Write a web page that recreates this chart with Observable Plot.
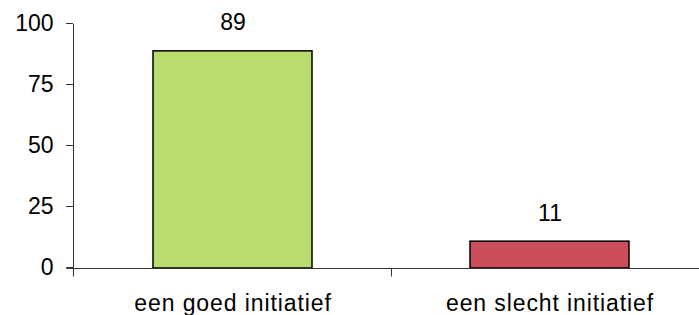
<!DOCTYPE html>
<html>
<head>
<meta charset="utf-8">
<script src="https://cdn.jsdelivr.net/npm/d3@7"></script>
<script src="https://cdn.jsdelivr.net/npm/@observablehq/plot@0.6"></script>
<style>
  html, body { margin: 0; padding: 0; background: #fff; }
  #chart svg { display: block; }
  #chart svg g[aria-label="x-axis tick label"] text { letter-spacing: 0.9px; }
</style>
</head>
<body>
<div id="chart"></div>
<script>
const categories = ["een goed initiatief", "een slecht initiatief"];
const values = [89, 11];
const barColors = ["#b8dc6e", "#c94d5a"];
const yTicks = [0, 25, 50, 75, 100];

const data = categories.map((c, i) => ({category: c, value: values[i]}));

const FONT = "'Liberation Sans', Arial, Helvetica, sans-serif";

const axisLines = (index, scales, vals, dims) => {
  const x = scales.x, y = scales.y;
  const y0 = Math.round(y(0)) + 0.5;
  const left = dims.marginLeft + 0.5;
  const g = d3.create("svg:g").attr("stroke", "#333").attr("stroke-width", 1).attr("fill", "none");
  g.append("line").attr("x1", left).attr("x2", left).attr("y1", y(d3.max(yTicks))).attr("y2", y0 + 8);
  g.append("line").attr("x1", left - 7).attr("x2", dims.width).attr("y1", y0).attr("y2", y0);
  const bw = typeof x.bandwidth === "function" ? x.bandwidth() : x.bandwidth;
  for (let i = 1; i < categories.length; i++) {
    const bx = Math.round((x(categories[i - 1]) + bw + x(categories[i])) / 2) + 0.5;
    g.append("line").attr("x1", bx).attr("x2", bx).attr("y1", y0).attr("y2", y0 + 8);
  }
  return g.node();
};

const chart = Plot.plot({
  width: 699,
  height: 315,
  marginLeft: 73,
  marginRight: 0,
  marginTop: 24,
  marginBottom: 47,
  style: {fontFamily: FONT, fontSize: "23px", color: "#000", background: "#fff"},
  x: {domain: categories, range: [73, 708], paddingInner: 0.5, paddingOuter: 0.25, axis: null},
  y: {domain: [0, 100], axis: null},
  color: {domain: categories, range: barColors},
  marks: [
    Plot.barY(data, {x: "category", y: "value", fill: "category", stroke: "#000", strokeWidth: 1.5}),
    Plot.text(data, {x: "category", y: "value", text: d => String(d.value), lineAnchor: "bottom", dy: -21, fontSize: 23, fill: "#000"}),
    Plot.axisY({ticks: yTicks, tickSize: 7, tickPadding: 13, fontSize: 23, stroke: "#333", dy: -1, label: null}),
    Plot.axisX({tickSize: 0, tickPadding: 26, fontSize: 23, label: null}),
    axisLines
  ]
});
document.getElementById("chart").appendChild(chart);
</script>
</body>
</html>
